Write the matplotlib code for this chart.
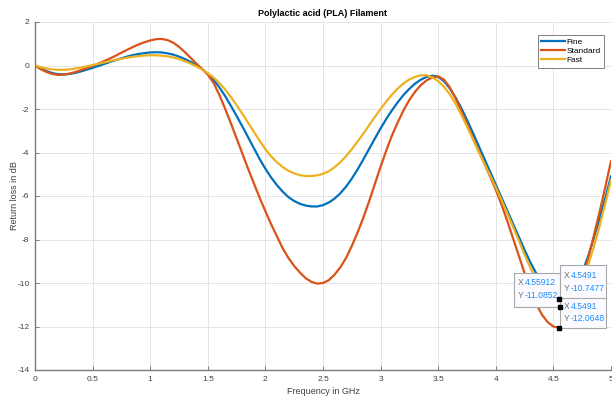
import numpy as np
import matplotlib
matplotlib.use('Agg')
from matplotlib import pyplot as plt
from matplotlib.patches import Rectangle
import matplotlib.transforms as mtransforms

plt.rcParams['font.family'] = ['Liberation Sans', 'DejaVu Sans']
plt.rcParams['axes.unicode_minus'] = False

# frequency samples (GHz), every 0.05
freq = np.round(np.arange(0, 5.001, 0.05), 2)

fine = [0.0, -0.14, -0.26, -0.35, -0.4, -0.41, -0.39, -0.34, -0.27, -0.19,
        -0.11, -0.02, 0.07, 0.16, 0.25, 0.33, 0.41, 0.48, 0.53, 0.57,
        0.6, 0.61, 0.6, 0.56, 0.5, 0.41, 0.3, 0.17, 0.02, -0.16,
        -0.38, -0.66, -1.0, -1.4, -1.85, -2.32, -2.8, -3.3, -3.8, -4.3,
        -4.75, -5.15, -5.5, -5.8, -6.05, -6.23, -6.36, -6.44, -6.48, -6.48,
        -6.42, -6.3, -6.12, -5.88, -5.57, -5.2, -4.78, -4.32, -3.84, -3.36,
        -2.89, -2.45, -2.05, -1.68, -1.35, -1.07, -0.83, -0.65, -0.52, -0.47,
        -0.52, -0.72, -1.05, -1.47, -1.95, -2.5, -3.08, -3.68, -4.28, -4.88,
        -5.48, -6.08, -6.68, -7.28, -7.88, -8.48, -9.05, -9.55, -9.98, -10.33,
        -10.6, -10.75, -10.7, -10.45, -10.05, -9.5, -8.8, -7.95, -7.05, -6.1,
        -5.1]

standard = [0.0, -0.17, -0.3, -0.39, -0.43, -0.42, -0.37, -0.3, -0.21, -0.12,
            -0.02, 0.09, 0.2, 0.32, 0.45, 0.59, 0.72, 0.85, 0.97, 1.07,
            1.15, 1.21, 1.22, 1.17, 1.05, 0.86, 0.62, 0.36, 0.09, -0.16,
            -0.42, -0.8, -1.35, -1.98, -2.65, -3.35, -4.05, -4.75, -5.42, -6.08,
            -6.7, -7.3, -7.85, -8.4, -8.85, -9.22, -9.52, -9.78, -9.95, -10.03,
            -10.0, -9.87, -9.62, -9.28, -8.85, -8.3, -7.68, -7.0, -6.25, -5.45,
            -4.65, -3.9, -3.2, -2.6, -2.05, -1.58, -1.2, -0.9, -0.68, -0.54,
            -0.5, -0.65, -1.0, -1.5, -2.08, -2.68, -3.3, -3.9, -4.5, -5.1,
            -5.72, -6.4, -7.15, -7.95, -8.75, -9.55, -10.3, -10.95, -11.45, -11.8,
            -12.0, -12.06, -11.9, -11.45, -10.75, -9.9, -8.9, -7.85, -6.75, -5.6,
            -4.4]

fast = [0.0, -0.08, -0.14, -0.18, -0.2, -0.2, -0.18, -0.14, -0.09, -0.04,
        0.02, 0.08, 0.14, 0.2, 0.26, 0.31, 0.36, 0.4, 0.43, 0.46,
        0.47, 0.47, 0.45, 0.42, 0.37, 0.3, 0.2, 0.09, -0.04, -0.18,
        -0.35, -0.55, -0.8, -1.1, -1.45, -1.82, -2.22, -2.63, -3.05, -3.46,
        -3.85, -4.18, -4.45, -4.67, -4.84, -4.96, -5.04, -5.08, -5.08, -5.05,
        -4.98, -4.86, -4.68, -4.45, -4.17, -3.85, -3.5, -3.13, -2.75, -2.37,
        -2.0, -1.65, -1.33, -1.05, -0.82, -0.64, -0.52, -0.45, -0.45, -0.55,
        -0.72, -0.98, -1.32, -1.75, -2.25, -2.8, -3.38, -3.95, -4.5, -5.05,
        -5.6, -6.2, -6.8, -7.42, -8.05, -8.7, -9.3, -9.85, -10.3, -10.65,
        -10.92, -11.08, -11.05, -10.85, -10.45, -9.9, -9.2, -8.35, -7.4, -6.35,
        -5.27]

# data tips shown on the chart
tips = [(4.55912, -11.0852), (4.5491, -10.7477), (4.5491, -12.0648)]
tip_labels = [('4.55912', '-11.0852'), ('4.5491', '-10.7477'), ('4.5491', '-12.0648')]
tip_boxes = [(-46, 0, 46, 34), (1, 0, 46, 34), (1, 0, 46, 30)]

colors = ['#0072BD', '#D95319', '#EDB120']
names = ['Fine', 'Standard', 'Fast']

fig = plt.figure(figsize=(6.12, 4.01), dpi=100)
ax = fig.add_axes([35 / 612, 1 - 370 / 401, 576 / 612, 348 / 401])

for ys, c, n in zip([fine, standard, fast], colors, names):
    ax.plot(freq, ys, color=c, lw=1.6, label=n)

ax.set_xlim(0, 5)
ax.set_ylim(-14, 2)
ax.set_xticks(np.arange(0, 5.01, 0.5))
ax.set_xticklabels(['0', '0.5', '1', '1.5', '2', '2.5', '3', '3.5', '4', '4.5', '5'])
ax.set_yticks(np.arange(-14, 2.01, 2))
ax.grid(True, color='#e4e4e4', lw=0.7)
ax.set_axisbelow(True)
for s in ['top', 'right']:
    ax.spines[s].set_visible(False)
for s in ['left', 'bottom']:
    ax.spines[s].set_color('#7a7a7a')
    ax.spines[s].set_linewidth(1.0)
ax.tick_params(direction='in', length=3, width=0.7, colors='#7a7a7a',
               labelcolor='#404040', labelsize=6, pad=4)

ax.set_title('Polylactic acid (PLA) Filament', fontsize=6.5, fontweight='bold', pad=4)
ax.set_xlabel('Frequency in GHz', fontsize=6.5, color='#404040', labelpad=3)
ax.set_ylabel('Return loss in dB', fontsize=6.5, color='#404040')
ax.yaxis.set_label_coords(-0.028, 0.5)

leg = ax.legend(loc='upper right', bbox_to_anchor=(0.995, 0.975), fontsize=6,
                fancybox=False, framealpha=1, edgecolor='#808080',
                handlelength=2.8, handletextpad=0.2, labelspacing=0.15,
                borderpad=0.4)
leg.get_frame().set_linewidth(0.7)

# data tips
fig.canvas.draw()
base = mtransforms.IdentityTransform()
for (tx, ty), (lx, ly), (dx, dy, w, h) in zip(tips, tip_labels, tip_boxes):
    px, py = ax.transData.transform((tx, ty))
    rect = Rectangle((px + dx, py + dy), w, h, transform=base, fc='#fbfbff',
                     ec='#a8a8a8', lw=0.8, zorder=6, clip_on=False)
    ax.add_patch(rect)
    left = px + dx
    for row, (key, val) in enumerate([('X', lx), ('Y', ly)]):
        if h > 32:
            yy = py + dy + h - 10 - row * 13
        else:
            yy = py + dy + h - 9 - row * 12
        ax.text(left + 4, yy, key, transform=base, fontsize=6.2, color='#707070',
                va='center', ha='left', zorder=7)
        ax.text(left + 10.5, yy, val, transform=base, fontsize=6.2, color='#1a8cff',
                va='center', ha='left', zorder=7)
    ax.plot([tx], [ty], 's', color='black', ms=2.2, zorder=8, clip_on=False)

fig.savefig('out.png', dpi=100)
